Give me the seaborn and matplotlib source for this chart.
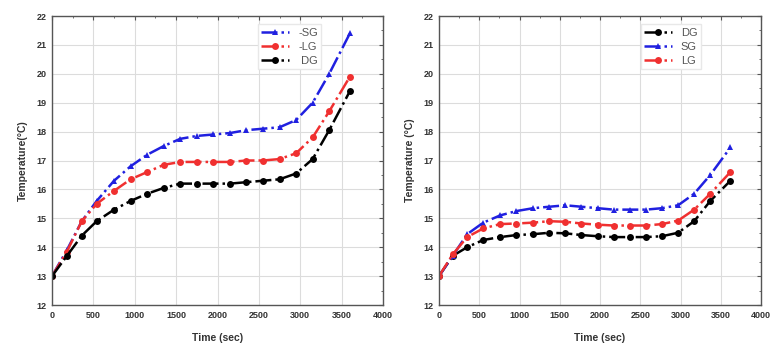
import matplotlib
matplotlib.use("Agg")
import matplotlib.pyplot as plt
import seaborn as sns
import pandas as pd
from matplotlib.ticker import MultipleLocator

sns.set_theme(style="white")
plt.rcParams['font.family'] = ['Liberation Sans', 'DejaVu Sans']

# ---- data: left panel ----
time_left = [0, 180, 360, 540, 750, 950, 1150, 1350, 1550, 1750, 1950, 2150, 2350, 2550, 2750, 2950, 3150, 3350, 3600]
sg_left = [13.0, 13.9, 14.9, 15.6, 16.3, 16.8, 17.2, 17.5, 17.75, 17.85, 17.9, 17.95, 18.05, 18.1, 18.15, 18.4, 19.0, 20.0, 21.4]
lg_left = [13.0, 13.85, 14.9, 15.5, 15.95, 16.35, 16.6, 16.85, 16.95, 16.95, 16.95, 16.95, 17.0, 17.0, 17.05, 17.25, 17.8, 18.7, 19.9]
dg_left = [13.0, 13.7, 14.4, 14.9, 15.3, 15.6, 15.85, 16.05, 16.2, 16.2, 16.2, 16.2, 16.25, 16.3, 16.35, 16.55, 17.05, 18.05, 19.4]

# ---- data: right panel ----
time_right = [0, 170, 350, 550, 760, 960, 1170, 1370, 1570, 1770, 1970, 2170, 2370, 2570, 2770, 2970, 3170, 3370, 3620]
sg_right = [13.0, 13.7, 14.45, 14.85, 15.1, 15.25, 15.35, 15.4, 15.45, 15.4, 15.35, 15.3, 15.3, 15.3, 15.35, 15.45, 15.85, 16.5, 17.45]
lg_right = [13.0, 13.75, 14.35, 14.65, 14.8, 14.82, 14.85, 14.9, 14.88, 14.82, 14.78, 14.75, 14.75, 14.75, 14.8, 14.92, 15.3, 15.85, 16.6]
dg_right = [13.0, 13.7, 14.0, 14.25, 14.35, 14.42, 14.45, 14.5, 14.48, 14.42, 14.38, 14.35, 14.35, 14.35, 14.38, 14.5, 14.9, 15.6, 16.3]

x_ticks = [0, 500, 1000, 1500, 2000, 2500, 3000, 3500, 4000]
y_ticks = [12, 13, 14, 15, 16, 17, 18, 19, 20, 21, 22]

styles = {
    'SG': dict(color='#2020e0', marker='^'),
    'LG': dict(color='#f03030', marker='o'),
    'DG': dict(color='#000000', marker='o'),
}

fig = plt.figure(figsize=(7.72, 3.5), dpi=100)
ax1 = fig.add_axes([52/772, 1-305/350, (383-52)/772, (305-16)/350])
ax2 = fig.add_axes([439/772, 1-305/350, (761-439)/772, (305-16)/350])

def draw(ax, t, series, labels, ylabel):
    for (key, vals), lab in zip(series, labels):
        st = styles[key]
        sns.lineplot(x=t, y=vals, ax=ax, color=st['color'], marker=st['marker'],
                     markersize=5, markeredgewidth=0, linestyle='-.', linewidth=1.8,
                     label=lab)
    ax.set_xlim(0, 4000)
    ax.set_ylim(12, 22)
    ax.set_xticks(x_ticks)
    ax.set_yticks(y_ticks)
    ax.xaxis.set_minor_locator(MultipleLocator(250))
    ax.yaxis.set_minor_locator(MultipleLocator(0.5))
    ax.grid(True, which='major', color='#dcdcdc', linewidth=0.8)
    ax.tick_params(which='both', direction='in', top=True, right=True, color='#555555')
    ax.tick_params(which='major', length=3, width=0.8, labelsize=6.5, pad=4)
    ax.tick_params(which='minor', length=1.5, width=0.6)
    for lbl in ax.get_xticklabels() + ax.get_yticklabels():
        lbl.set_fontweight('bold')
        lbl.set_color('#333333')
    for sp in ax.spines.values():
        sp.set_color('#555555')
        sp.set_linewidth(1.0)
    ax.set_xlabel('Time (sec)', fontsize=7.5, fontweight='bold', color='#333333', labelpad=10)
    ax.set_ylabel(ylabel, fontsize=7.5, fontweight='bold', color='#333333', labelpad=6)
    leg = ax.legend(loc='upper right', bbox_to_anchor=(0.83, 0.99), fontsize=8,
                    frameon=True, fancybox=False, framealpha=1, edgecolor='#e8e8e8',
                    handlelength=2.5, borderpad=0.3, labelspacing=0.35, numpoints=1)
    for txt in leg.get_texts():
        txt.set_color('#555555')

draw(ax1, time_left, [('SG', sg_left), ('LG', lg_left), ('DG', dg_left)],
     ['-SG', '-LG', ' DG'], 'Temperature(°C)')
draw(ax2, time_right, [('DG', dg_right), ('SG', sg_right), ('LG', lg_right)],
     ['DG', 'SG', 'LG'], 'Temperature (°C)')

fig.savefig('out.png', dpi=100)
